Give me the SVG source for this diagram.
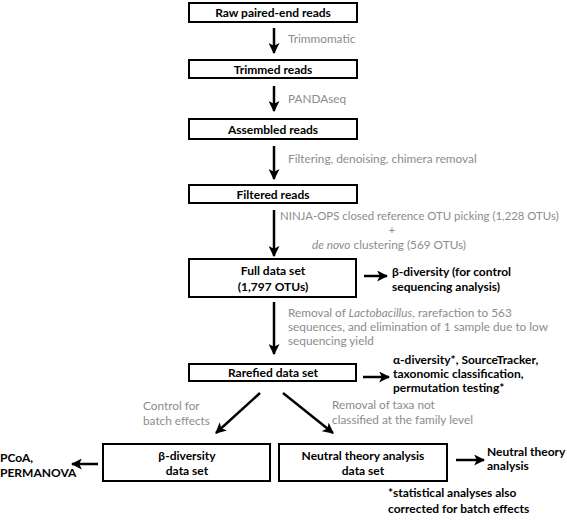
<svg xmlns="http://www.w3.org/2000/svg" width="567" height="522" viewBox="0 0 567 522">
<defs>
<marker id="ah" viewBox="0 0 10 10" refX="9" refY="5" markerWidth="11" markerHeight="11" markerUnits="userSpaceOnUse" orient="auto">
<path d="M0,0 L10,5 L0,10 L2.5,5 Z" fill="#000"/>
</marker>
<style>
.box{fill:#fff;stroke:#000;stroke-width:2}
.t{font-family:Lato,"Liberation Sans",sans-serif;font-size:12px;font-weight:bold;fill:#000}
.c{text-anchor:middle}
.g{font-family:Lato,"Liberation Sans",sans-serif;font-size:11.8px;fill:#8c8c8c}
.a{stroke:#000;stroke-width:2.5;fill:none;marker-end:url(#ah)}
</style>
</defs>
<rect width="567" height="522" fill="#fff"/>
<g id="connectors">
<line class="a" x1="274" y1="28" x2="274" y2="53"/>
<line class="a" x1="274" y1="86" x2="274" y2="111"/>
<line class="a" x1="274" y1="146" x2="274" y2="179"/>
<line class="a" x1="274" y1="210" x2="274" y2="256"/>
<line class="a" x1="274" y1="302" x2="274" y2="354"/>
<line class="a" x1="364" y1="276" x2="387" y2="276"/>
<line class="a" x1="363" y1="377" x2="389" y2="377"/>
<line class="a" x1="260" y1="393" x2="216" y2="433"/>
<line class="a" x1="283" y1="393" x2="333" y2="433"/>
<line class="a" x1="98" y1="464" x2="72" y2="464"/>
<line class="a" x1="456" y1="460" x2="484" y2="460"/>
<text class="g" x="288" y="43">Trimmomatic</text>
<text class="g" x="288" y="103">PANDAseq</text>
<text class="g" x="288" y="163">Filtering, denoising, chimera removal</text>
<text class="g" x="280" y="220" style="font-size:11.4px">NINJA-OPS closed reference OTU picking (1,228 OTUs)</text>
<text class="g" x="392" y="234" text-anchor="middle">+</text>
<text class="g" x="312" y="249"><tspan font-style="italic">de novo</tspan> clustering (569 OTUs)</text>
<text class="g" x="288" y="317">Removal of <tspan font-style="italic">Lactobacillus</tspan>, rarefaction to 563</text>
<text class="g" x="288" y="331">sequences, and elimination of 1 sample due to low</text>
<text class="g" x="288" y="345">sequencing yield</text>
<text class="g" x="143" y="410">Control for</text>
<text class="g" x="143" y="425">batch effects</text>
<text class="g" x="332" y="409">Removal of taxa not</text>
<text class="g" x="332" y="424">classified at the family level</text>
</g>
<g id="n1"><rect class="box" x="189" y="3" width="168" height="19"/><text class="t c" x="273" y="17">Raw paired-end reads</text></g>
<g id="n2"><rect class="box" x="189" y="60" width="168" height="18"/><text class="t c" x="273" y="74">Trimmed reads</text></g>
<g id="n3"><rect class="box" x="189" y="119" width="168" height="20"/><text class="t c" x="273" y="134">Assembled reads</text></g>
<g id="n4"><rect class="box" x="189" y="185" width="168" height="18"/><text class="t c" x="273" y="199">Filtered reads</text></g>
<g id="n5"><rect class="box" x="189" y="259" width="167" height="38"/><text class="t c" x="273" y="275">Full data set</text><text class="t c" x="273" y="291">(1,797 OTUs)</text></g>
<g id="n6"><rect class="box" x="189" y="364" width="167" height="17"/><text class="t c" x="273" y="377">Rarefied data set</text></g>
<g id="n7"><rect class="box" x="103" y="444" width="167" height="37"/><text class="t c" x="187" y="460">β-diversity</text><text class="t c" x="187" y="475">data set</text></g>
<g id="n8"><rect class="box" x="279" y="444" width="168" height="37"/><text class="t c" x="363" y="460">Neutral theory analysis</text><text class="t c" x="363" y="475">data set</text></g>
<g id="o1"><text class="t" x="392" y="276">β-diversity (for control</text><text class="t" x="392" y="291">sequencing analysis)</text></g>
<g id="o2"><text class="t" x="393" y="364">α-diversity*, SourceTracker,</text><text class="t" x="393" y="378">taxonomic classification,</text><text class="t" x="393" y="392">permutation testing*</text></g>
<g id="o3"><text class="t" x="0" y="462">PCoA,</text><text class="t" x="0" y="477">PERMANOVA</text></g>
<g id="o4"><text class="t" x="487" y="456">Neutral theory</text><text class="t" x="487" y="470">analysis</text></g>
<g id="note"><text class="t" x="388" y="497">*statistical analyses also</text><text class="t" x="388" y="513">corrected for batch effects</text></g>
</svg>
